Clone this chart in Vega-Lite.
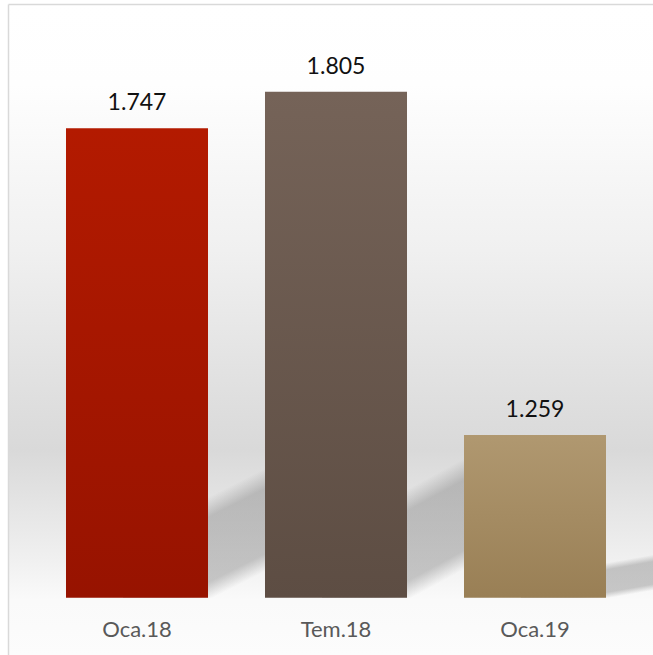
{
  "$schema": "https://vega.github.io/schema/vega-lite/v6.json",
  "width": 645,
  "height": 651,
  "autosize": {"type": "none"},
  "padding": {"left": 8, "top": 4, "right": 0, "bottom": 0},
  "background": "#ffffff",
  "view": {
    "stroke": null,
    "fill": {
      "gradient": "linear", "x1": 0, "y1": 0, "x2": 0, "y2": 1,
      "stops": [
        {"offset": 0, "color": "#ffffff"},
        {"offset": 0.124, "color": "#fefefe"},
        {"offset": 0.378, "color": "#f0f0f0"},
        {"offset": 0.685, "color": "#d9d9d9"},
        {"offset": 0.854, "color": "#f0f0f0"},
        {"offset": 0.916, "color": "#fafafa"},
        {"offset": 1, "color": "#fcfcfc"}
      ]
    }
  },
  "data": {
    "values": [
      {"cat": "Oca.18", "value": 1.747, "label": "1.747"},
      {"cat": "Tem.18", "value": 1.805, "label": "1.805"},
      {"cat": "Oca.19", "value": 1.259, "label": "1.259"}
    ]
  },
  "layer": [
    {
      "mark": {
        "type": "bar",
        "xOffset": 57,
        "fill": {
          "gradient": "linear", "x1": 0, "y1": 0, "x2": 0.585, "y2": 1.219,
          "stops": [
            {"offset": 0, "color": "rgba(110,110,110,0)"},
            {"offset": 0.41, "color": "rgba(110,110,110,0)"},
            {"offset": 0.5, "color": "rgba(110,110,110,0.36)"},
            {"offset": 0.79, "color": "rgba(110,110,110,0.36)"},
            {"offset": 0.87, "color": "rgba(110,110,110,0)"},
            {"offset": 1, "color": "rgba(110,110,110,0)"}
          ]
        }
      },
      "encoding": {
        "x": {
          "field": "cat", "type": "nominal", "sort": null, "axis": null,
          "scale": {"paddingInner": 0.2864, "paddingOuter": 0.2638, "align": 0.5524}
        },
        "y": {
          "field": "value", "type": "quantitative", "axis": null,
          "scale": {"domain": [0.7135, 3.9685], "zero": false, "nice": false}
        },
        "y2": {"datum": 1}
      }
    },
    {
      "mark": {"type": "bar"},
      "encoding": {
        "x": {
          "field": "cat", "type": "nominal", "sort": null,
          "axis": {
            "orient": "bottom", "title": null, "domain": false, "ticks": false, "tickSize": 0,
            "offset": -57.3, "labelPadding": 38.3, "labelBaseline": "alphabetic",
            "labelAngle": 0, "labelFont": "Lato", "labelFontSize": 22, "labelColor": "#595959",
            "grid": false
          }
        },
        "y": {
          "field": "value", "type": "quantitative",
          "scale": {"domain": [0.9088, 1.9446], "zero": false, "nice": false},
          "axis": {
            "title": null, "labels": false, "ticks": false, "grid": false,
            "domain": true, "domainColor": "#d9d9d9", "domainWidth": 1.5
          }
        },
        "y2": {"datum": 1},
        "fill": {
          "condition": [
            {
              "test": "datum.cat === 'Oca.18'",
              "value": {
                "gradient": "linear", "x1": 0, "y1": 0, "x2": 0, "y2": 1,
                "stops": [
                  {"offset": 0, "color": "#b31a00"},
                  {"offset": 1, "color": "#971300"}
                ]
              }
            },
            {
              "test": "datum.cat === 'Tem.18'",
              "value": {
                "gradient": "linear", "x1": 0, "y1": 0, "x2": 0, "y2": 1,
                "stops": [
                  {"offset": 0, "color": "#756358"},
                  {"offset": 1, "color": "#5d4d43"}
                ]
              }
            }
          ],
          "value": {
            "gradient": "linear", "x1": 0, "y1": 0, "x2": 0, "y2": 1,
            "stops": [
              {"offset": 0, "color": "#b09870"},
              {"offset": 1, "color": "#997f55"}
            ]
          }
        }
      }
    },
    {
      "mark": {
        "type": "text", "baseline": "alphabetic", "dy": -18,
        "font": "Lato", "fontSize": 23, "color": "#111111"
      },
      "encoding": {
        "x": {
          "field": "cat", "type": "nominal", "sort": null,
          "axis": {
            "orient": "top", "title": null, "labels": false, "ticks": false, "grid": false,
            "domain": true, "domainColor": "#d9d9d9", "domainWidth": 1.5
          }
        },
        "y": {
          "field": "value", "type": "quantitative", "axis": null,
          "scale": {"domain": [0.9088, 1.9446], "zero": false, "nice": false}
        },
        "text": {"field": "label", "type": "nominal"}
      }
    }
  ],
  "resolve": {
    "scale": {"y": "independent"},
    "axis": {"x": "independent", "y": "independent"}
  }
}
